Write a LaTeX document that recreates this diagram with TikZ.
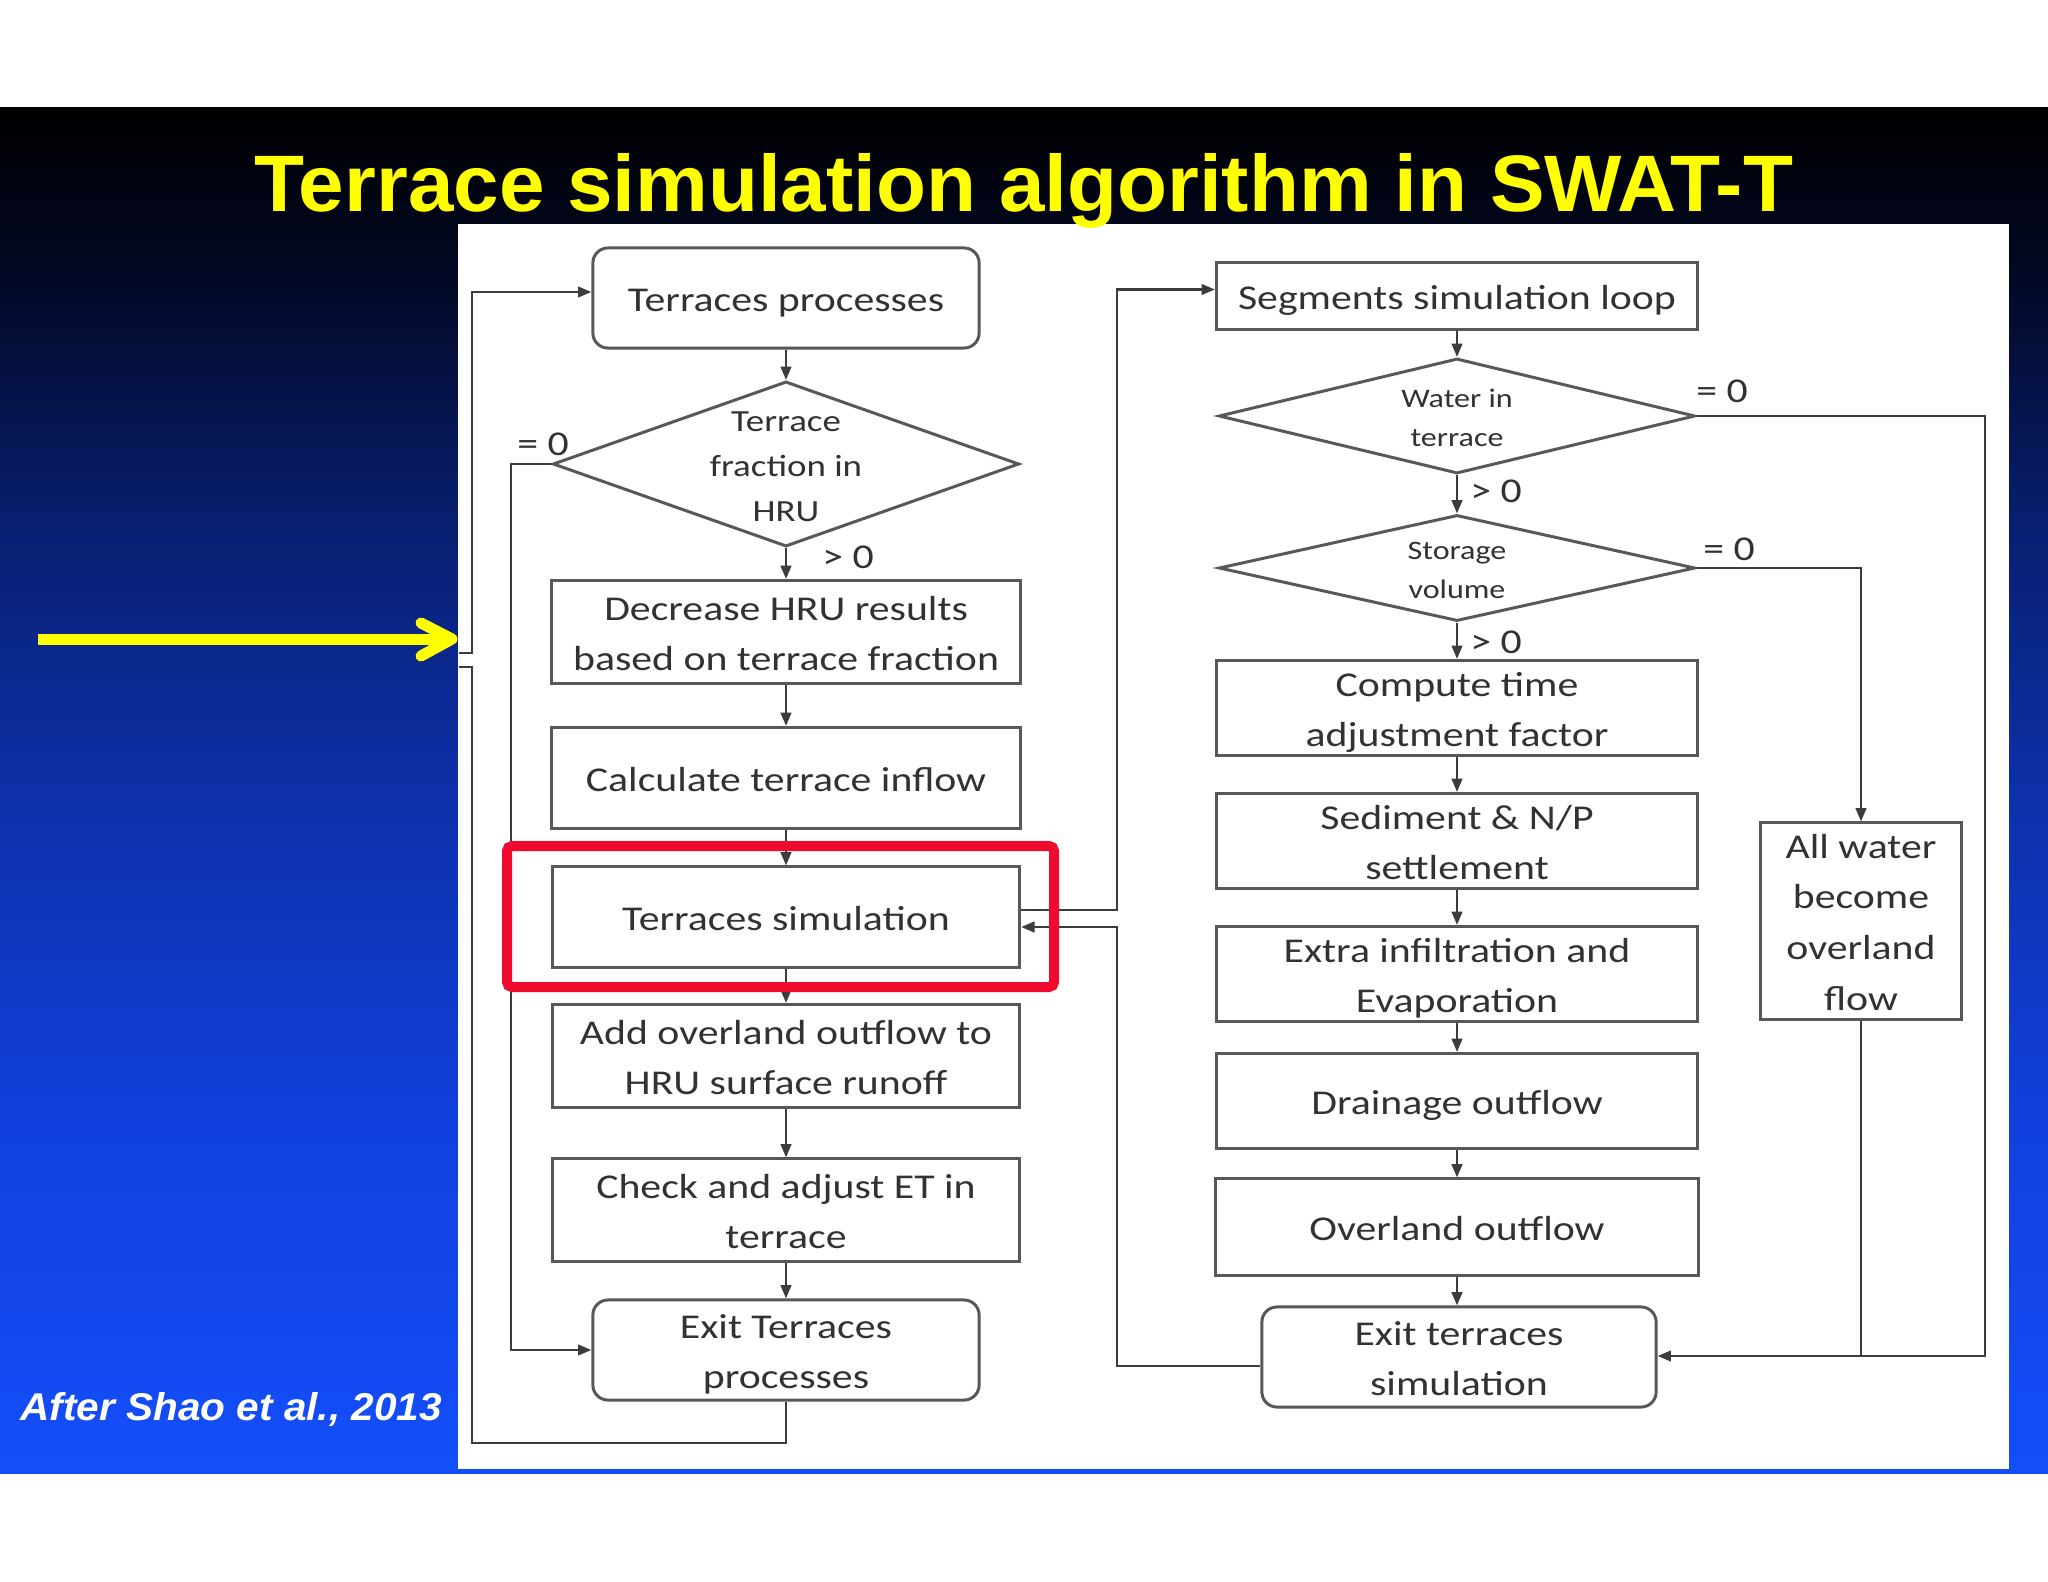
\documentclass[tikz,border=0pt]{standalone}
\usepackage{graphicx}
\usepackage{fontspec}
\setmainfont{Liberation Sans}
\newfontfamily\figfont[FakeStretch=1.2]{Carlito}
\usetikzlibrary{arrows.meta,shapes.geometric,calc}

\definecolor{titleyellow}{RGB}{255,255,0}
\definecolor{bgA}{RGB}{0,0,0}
\definecolor{bgB}{RGB}{2,8,35}
\definecolor{bgC}{RGB}{8,30,110}
\definecolor{bgD}{RGB}{13,48,168}
\definecolor{bgE}{RGB}{17,64,222}
\definecolor{bgF}{RGB}{20,78,250}
\definecolor{boxgray}{RGB}{88,88,88}
\definecolor{linegray}{RGB}{60,60,60}
\definecolor{txtgray}{RGB}{50,50,50}
\definecolor{hlred}{RGB}{240,10,45}

\pgfdeclareverticalshading{bgshade}{100bp}{color(0bp)=(bgF); color(25bp)=(bgF); color(37.5bp)=(bgE); color(50bp)=(bgD); color(60bp)=(bgC); color(69bp)=(bgB); color(75bp)=(bgA); color(100bp)=(bgA)}

\newcommand\fsBox{\figfont\fontsize{9.9pt}{14.2pt}\selectfont}
\newcommand\fsDa{\figfont\fontsize{8.75pt}{12.8pt}\selectfont}
\newcommand\fsDb{\figfont\fontsize{7.6pt}{11.1pt}\selectfont}
\newcommand\fsAw{\figfont\fontsize{9.9pt}{14.4pt}\selectfont}

\begin{document}
\begin{tikzpicture}[x=0.01cm,y=-0.01cm,
  box/.style={draw=boxgray, line width=0.85pt, fill=white, inner sep=0pt, align=center, text=txtgray, font=\fsBox},
  one/.style={text height=0.3cm, text depth=0.03cm},
  two/.style={text height=0.77cm, text depth=0cm},
  four/.style={text height=1.78cm, text depth=0cm},
  rbox/.style={box, rounded corners=0.15cm},
  dia/.style={draw=boxgray, line width=0.85pt, fill=white, shape=diamond, inner sep=0pt},
  dtxtA/.style={inner sep=0pt, align=center, text=txtgray, font=\fsDa},
  dtxtB/.style={inner sep=0pt, align=center, text=txtgray, font=\fsDb},
  conn/.style={draw=linegray, line width=0.7pt},
  arr/.style={conn, -{Triangle[length=3.8pt,width=3pt]}},
  lbl/.style={text=txtgray, font=\fsBox, inner sep=0pt, anchor=base},
  yline/.style={draw=titleyellow, line width=0.11cm},
  redbox/.style={draw=hlred, line width=0.1cm, rounded corners=0.05cm}
]
\useasboundingbox (0,0) rectangle (2048,1582);
\fill[white] (0,0) rectangle (2048,1582);
\shade[shading=bgshade] (0,108) rectangle (2048,1473);
\fill[white] (458,224) rectangle (2009,1469);

% title and source
\node[anchor=base, inner sep=0pt, text=titleyellow] (title) at (1024,212)
  {\resizebox{15.37cm}{0.58cm}{\bfseries Terrace simulation algorithm in SWAT-T}};
\node[anchor=base west, inner sep=0pt, text=white] (src) at (20,1420)
  {\resizebox{4.21cm}{0.28cm}{\bfseries\itshape After Shao et al., 2013}};

% yellow pointer
\coordinate (yS) at (38,639);
\coordinate (yT) at (452,639);
\draw[yline, line cap=butt] (yS) -- (yT);
\draw[yline, line cap=round, line join=round] (421,623) -- (yT) -- (421,656);

% left column
\node[rbox, one, minimum width=3.86cm, minimum height=1.0cm] (tp) at (786,298) {Terraces processes};
\node[dia, minimum width=4.66cm, minimum height=1.65cm] (d1) at (786,464) {};
\node[dtxtA] (d1t) at (786,467) {Terrace\\fraction in\\HRU};
\node[box, two, minimum width=4.68cm, minimum height=1.03cm] (dhr) at (786,632) {Decrease HRU results\\based on terrace fraction};
\node[box, one, minimum width=4.68cm, minimum height=1.01cm] (cti) at (786,778) {Calculate terrace inflow};
\node[box, one, minimum width=4.67cm, minimum height=1.0cm] (ts) at (786,917) {Terraces simulation};
\node[box, two, minimum width=4.67cm, minimum height=1.03cm] (aoo) at (786,1056) {Add overland outflow to\\HRU surface runoff};
\node[box, two, minimum width=4.67cm, minimum height=1.02cm] (cae) at (786,1210) {Check and adjust ET in\\terrace};
\node[rbox, two, minimum width=3.86cm, minimum height=1.0cm] (etp) at (786,1350) {Exit Terraces\\processes};

% right column
\node[box, one, minimum width=4.81cm, minimum height=0.67cm] (ssl) at (1457,296) {Segments simulation loop};
\node[dia, minimum width=4.76cm, minimum height=1.15cm] (d2) at (1457,416) {};
\node[dtxtB] (d2t) at (1457,418) {Water in\\terrace};
\node[dia, minimum width=4.76cm, minimum height=1.06cm] (d3) at (1457,568) {};
\node[dtxtB] (d3t) at (1457,570) {Storage\\volume};
\node[box, two, minimum width=4.81cm, minimum height=0.95cm] (ctaf) at (1457,708) {Compute time\\adjustment factor};
\node[box, two, minimum width=4.81cm, minimum height=0.95cm] (snp) at (1457,841) {Sediment \& N/P\\settlement};
\node[box, two, minimum width=4.81cm, minimum height=0.95cm] (eie) at (1457,974) {Extra infiltration and\\Evaporation};
\node[box, four, minimum width=2.00cm, minimum height=1.96cm, font=\fsAw] (awb) at (1861,921) {All water\\become\\overland\\flow};
\node[box, one, minimum width=4.81cm, minimum height=0.95cm] (dro) at (1457,1101) {Drainage outflow};
\node[box, one, minimum width=4.83cm, minimum height=0.96cm] (olo) at (1457,1227) {Overland outflow};
\node[rbox, two, minimum width=3.94cm, minimum height=1.0cm] (ets) at (1459,1357) {Exit terraces\\simulation};

% left connectors
\draw[arr] (tp.south) -- (d1.north);
\draw[arr] (d1.south) -- (dhr.north);
\draw[arr] (dhr.south) -- (cti.north);
\draw[arr] (cti.south) -- (ts.north);
\draw[arr] (ts.south) -- (aoo.north);
\draw[arr] (aoo.south) -- (cae.north);
\draw[arr] (cae.south) -- (etp.north);
\coordinate (cL1) at (511,900);
\draw[arr] (d1.west) -| (cL1) |- (etp.west);
\coordinate (cO1) at (472,1443);
\coordinate (cO2) at (472,667);
\coordinate (cO3) at (459,667);
\coordinate (cO4) at (459,653);
\coordinate (cO5) at (472,653);
\draw[conn] (etp.south) |- (cO1) -- (cO2) -- (cO3);
\draw[arr] (cO4) -- (cO5) |- ([yshift=0.06cm]tp.west);

% middle connectors
\coordinate (cM1) at (1117,600);
\coordinate (cM2) at (1117,1100);
\draw[arr] ([yshift=0.07cm]ts.east) -| (cM1) |- ([yshift=0.065cm]ssl.west);
\draw[arr] ([yshift=-0.09cm]ets.west) -| (cM2) |- ([yshift=-0.1cm]ts.east);

% right connectors
\draw[arr] (ssl.south) -- (d2.north);
\draw[arr] (d2.south) -- (d3.north);
\draw[arr] (d3.south) -- (ctaf.north);
\draw[arr] (ctaf.south) -- (snp.north);
\draw[arr] (snp.south) -- (eie.north);
\draw[arr] (eie.south) -- (dro.north);
\draw[arr] (dro.south) -- (olo.north);
\draw[arr] (olo.south) -- (olo.south |- ets.north);
\coordinate (eIn) at ([yshift=0.01cm]ets.east);
\coordinate (cR1) at (1985,800);
\draw[arr] (d2.east) -| (cR1) |- (eIn);
\draw[arr] (d3.east) -| (awb.north);
\draw[conn] (awb.south) -- (awb.south |- eIn);

% labels
\node[lbl] (l1) at (543,455) {= 0};
\node[lbl] (l2) at (848,568) {> 0};
\node[lbl] (l3) at (1722,402) {= 0};
\node[lbl] (l4) at (1496,502) {> 0};
\node[lbl] (l5) at (1729,560) {= 0};
\node[lbl] (l6) at (1496,653) {> 0};

% highlight
\draw[redbox] (507,846) rectangle (1054,987);
\end{tikzpicture}
\end{document}
